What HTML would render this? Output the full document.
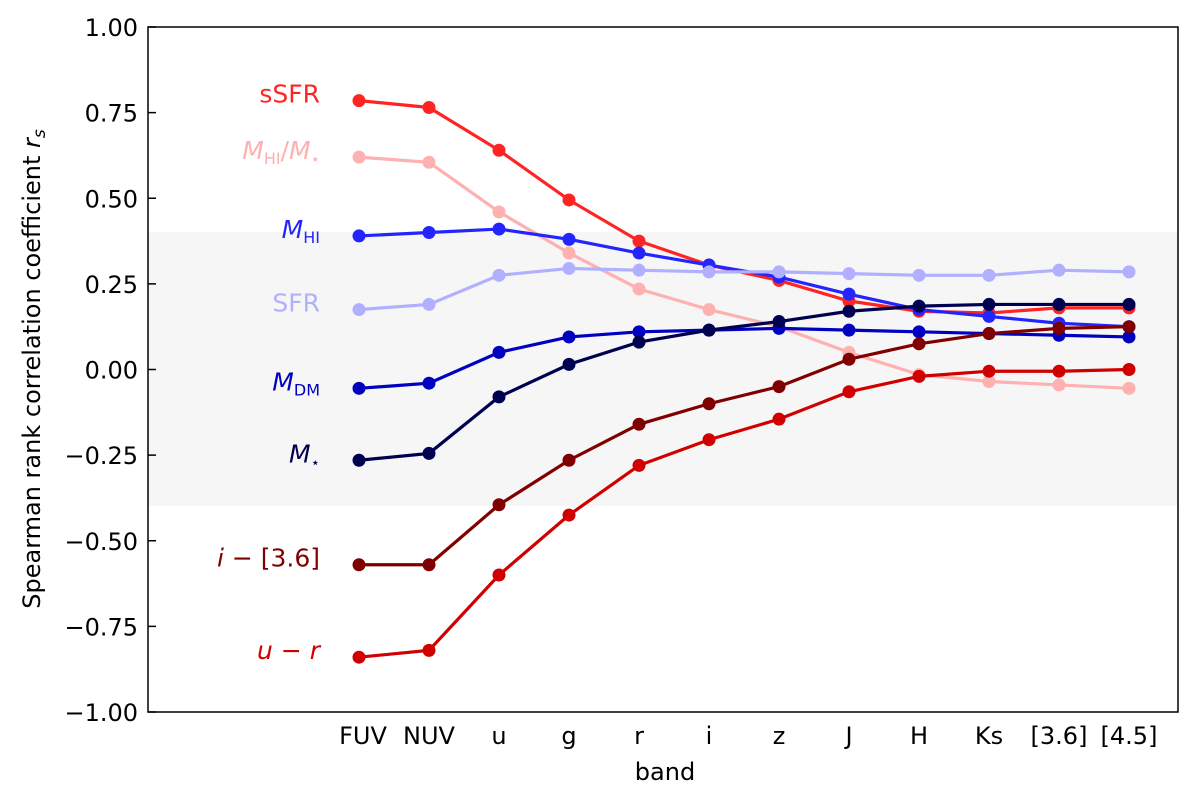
<!DOCTYPE html>
<html><head><meta charset="utf-8"><style>
body{margin:0;background:#fff;}
svg text{font-family:"DejaVu Sans","Liberation Sans",sans-serif;}
</style></head><body>
<svg id="chart" width="1200" height="799" xmlns="http://www.w3.org/2000/svg">
<rect x="148" y="232" width="1030" height="274" fill="#f6f6f6"/>
<g id="series"></g>
<rect x="148" y="27" width="1030" height="685" fill="none" stroke="#000" stroke-width="1.5"/>
<g id="yaxis"></g>
<g id="xaxis"></g>
<text x="665" y="780" font-size="24" text-anchor="middle">band</text>
<text transform="translate(40,369) rotate(-90)" font-size="24" text-anchor="middle">Spearman rank correlation coefficient <tspan font-style="italic">r</tspan><tspan font-style="italic" font-size="17" dy="5">s</tspan></text>
</svg>
<script>
const bands=["FUV","NUV","u","g","r","i","z","J","H","Ks","[3.6]","[4.5]"];
const yTicks=[1.00,0.75,0.50,0.25,0.00,-0.25,-0.50,-0.75,-1.00];
const sSFR=[0.785,0.765,0.64,0.495,0.375,0.305,0.26,0.20,0.17,0.165,0.18,0.18];
const hiRatio=[0.62,0.605,0.46,0.34,0.235,0.175,0.125,0.05,-0.015,-0.035,-0.045,-0.055];
const mHI=[0.39,0.40,0.41,0.38,0.34,0.305,0.27,0.22,0.175,0.155,0.135,0.125];
const sfr=[0.175,0.19,0.275,0.295,0.29,0.285,0.285,0.28,0.275,0.275,0.29,0.285];
const mDM=[-0.055,-0.04,0.05,0.095,0.11,0.115,0.12,0.115,0.11,0.105,0.1,0.095];
const mStar=[-0.265,-0.245,-0.08,0.015,0.08,0.115,0.14,0.17,0.185,0.19,0.19,0.19];
const i36=[-0.57,-0.57,-0.395,-0.265,-0.16,-0.1,-0.05,0.03,0.075,0.105,0.12,0.125];
const ur=[-0.84,-0.82,-0.6,-0.425,-0.28,-0.205,-0.145,-0.065,-0.02,-0.005,-0.005,0];
const NS="http://www.w3.org/2000/svg";
const X=i=>359+70*i;
const Y=v=>369.5-v*342.5;
const series=[
 {name:"sSFR",d:sSFR,c:"#ff2424",label:'sSFR'},
 {name:"mhi-ratio",d:hiRatio,c:"#ffb0b0",label:'<tspan font-style="italic">M</tspan><tspan font-size="16" dy="5">HI</tspan><tspan dy="-5">/</tspan><tspan font-style="italic">M</tspan><tspan font-size="15" dy="5">⋆</tspan>'},
 {name:"mhi",d:mHI,c:"#2424ff",label:'<tspan font-style="italic">M</tspan><tspan font-size="16" dy="5">HI</tspan>'},
 {name:"sfr",d:sfr,c:"#b0b0ff",label:'SFR'},
 {name:"mdm",d:mDM,c:"#0000c0",label:'<tspan font-style="italic">M</tspan><tspan font-size="16" dy="5">DM</tspan>'},
 {name:"mstar",d:mStar,c:"#000050",label:'<tspan font-style="italic">M</tspan><tspan font-size="15" dy="5">⋆</tspan>'},
 {name:"i-minus-36",d:i36,c:"#800000",label:'<tspan font-style="italic">i</tspan> − [3.6]'},
 {name:"u-minus-r",d:ur,c:"#d00000",label:'<tspan font-style="italic">u</tspan> − <tspan font-style="italic">r</tspan>'}
];
const g=document.getElementById("series");
series.forEach(s=>{
 const p=document.createElementNS(NS,"polyline");
 
 
 p.setAttribute("points",s.d.map((v,i)=>X(i)+","+Y(v)).join(" "));
 p.setAttribute("fill","none");p.setAttribute("stroke",s.c);p.setAttribute("stroke-width","3.2");
 g.appendChild(p);
 s.d.forEach((v,i)=>{
  const c=document.createElementNS(NS,"circle");
  
  
  c.setAttribute("cx",X(i));c.setAttribute("cy",Y(v));c.setAttribute("r","6.5");c.setAttribute("fill",s.c);
  g.appendChild(c);
 });
 const t=document.createElementNS(NS,"text");
 
 
 t.setAttribute("x",320);t.setAttribute("y",Y(s.d[0])+2);t.setAttribute("text-anchor","end");
 t.setAttribute("font-size","25");t.setAttribute("fill",s.c);
 t.innerHTML=s.label;
 g.appendChild(t);
});
const ya=document.getElementById("yaxis");
yTicks.forEach(v=>{
 const l=document.createElementNS(NS,"line");
 
 
 l.setAttribute("x1",148);l.setAttribute("x2",156);l.setAttribute("y1",Y(v));l.setAttribute("y2",Y(v));l.setAttribute("stroke","#000");l.setAttribute("stroke-width","1.5");
 ya.appendChild(l);
 const t=document.createElementNS(NS,"text");
 
 
 t.setAttribute("x",138);t.setAttribute("y",Y(v)+9);t.setAttribute("text-anchor","end");t.setAttribute("font-size","24");
 t.textContent=(v<0?"−":"")+Math.abs(v).toFixed(2);
 ya.appendChild(t);
});
const xa=document.getElementById("xaxis");
bands.forEach((b,i)=>{
 const t=document.createElementNS(NS,"text");
 
 
 t.setAttribute("x",X(i)+(i==0?4:0));t.setAttribute("y",744);t.setAttribute("text-anchor","middle");t.setAttribute("font-size","24");
 t.textContent=b;
 xa.appendChild(t);
});
</script>
</body></html>
